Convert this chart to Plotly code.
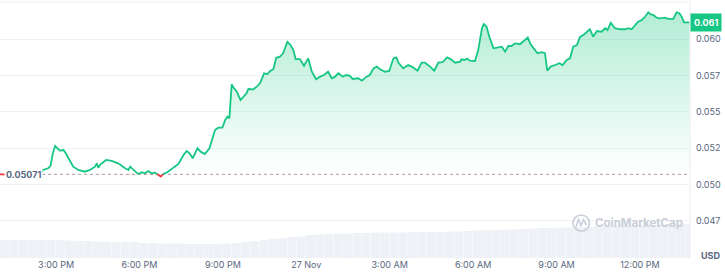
import numpy as np
import pandas as pd
import plotly.graph_objects as go

# ---------------- data ----------------
START = pd.Timestamp("2024-11-26 12:59")
END_MIN = 1489
REF_PRICE = 0.05071
LAST_LABEL = "0.061"

price_minutes = [
    0, 32, 65, 84, 93, 104, 109, 114, 119, 124, 129, 137, 142, 150, 158, 169, 183, 194, 205, 209,
    212, 217, 229, 241, 255, 270, 277, 281, 288, 298, 306, 313, 320, 327, 334, 342, 347, 352, 361, 374,
    385, 396, 403, 409, 416, 421, 426, 433, 442, 452, 457, 464, 471, 480, 486, 491, 495, 500, 505, 511,
    519, 527, 532, 536, 547, 554, 561, 570, 577, 583, 590, 596, 604, 611, 620, 627, 633, 638, 647, 656,
    665, 673, 682, 691, 699, 708, 716, 723, 730, 740, 747, 755, 761, 773, 781, 791, 798, 806, 813, 820,
    831, 840, 849, 855, 860, 870, 881, 891, 901, 910, 917, 928, 937, 946, 955, 965, 973, 982, 993, 996,
    1003, 1008, 1014, 1025, 1032, 1040, 1044, 1050, 1056, 1065, 1075, 1083, 1090, 1097, 1104, 1111, 1122, 1131, 1139, 1145,
    1152, 1160, 1169, 1176, 1181, 1188, 1198, 1207, 1214, 1223, 1230, 1237, 1245, 1252, 1259, 1266, 1273, 1280, 1288, 1298,
    1306, 1311, 1318, 1327, 1338, 1349, 1356, 1363, 1370, 1377, 1385, 1392, 1399, 1404, 1410, 1417, 1424, 1435, 1442, 1453,
    1460, 1466, 1471, 1476, 1483, 1488,
]
prices = [
    0.05071, 0.05068, 0.05066, 0.05064, 0.05101, 0.05113, 0.05130, 0.05216, 0.05266, 0.05250,
    0.05234, 0.05238, 0.05216, 0.05170, 0.05124, 0.05101, 0.05089, 0.05101, 0.05124, 0.05147,
    0.05117, 0.05140, 0.05170, 0.05163, 0.05147, 0.05113, 0.05101, 0.05124, 0.05101, 0.05073,
    0.05085, 0.05078, 0.05094, 0.05078, 0.05082, 0.05066, 0.05056, 0.05073, 0.05085, 0.05113,
    0.05142, 0.05204, 0.05232, 0.05216, 0.05181, 0.05216, 0.05250, 0.05227, 0.05211, 0.05250,
    0.05307, 0.05376, 0.05392, 0.05392, 0.05445, 0.05468, 0.05457, 0.05690, 0.05663, 0.05640,
    0.05582, 0.05610, 0.05629, 0.05658, 0.05656, 0.05674, 0.05697, 0.05766, 0.05761, 0.05782,
    0.05794, 0.05873, 0.05880, 0.05904, 0.05983, 0.05961, 0.05926, 0.05864, 0.05864, 0.05818,
    0.05869, 0.05777, 0.05725, 0.05743, 0.05754, 0.05777, 0.05732, 0.05743, 0.05766, 0.05743,
    0.05754, 0.05748, 0.05727, 0.05732, 0.05715, 0.05743, 0.05754, 0.05800, 0.05812, 0.05794,
    0.05777, 0.05782, 0.05869, 0.05876, 0.05839, 0.05800, 0.05823, 0.05807, 0.05784, 0.05839,
    0.05839, 0.05812, 0.05784, 0.05839, 0.05842, 0.05876, 0.05862, 0.05839, 0.05846, 0.05862,
    0.05858, 0.05867, 0.05853, 0.05851, 0.05926, 0.06076, 0.06105, 0.06087, 0.06018, 0.05938,
    0.05942, 0.05949, 0.05915, 0.05954, 0.05954, 0.05972, 0.05966, 0.05988, 0.06012, 0.05966,
    0.05938, 0.05904, 0.05911, 0.05904, 0.05784, 0.05812, 0.05823, 0.05835, 0.05823, 0.05858,
    0.05869, 0.05949, 0.05961, 0.06018, 0.06030, 0.06052, 0.06069, 0.06018, 0.06057, 0.06052,
    0.06076, 0.06064, 0.06114, 0.06076, 0.06069, 0.06069, 0.06076, 0.06069, 0.06094, 0.06121,
    0.06133, 0.06155, 0.06186, 0.06172, 0.06167, 0.06149, 0.06144, 0.06149, 0.06140, 0.06140,
    0.06186, 0.06179, 0.06155, 0.06117, 0.06117, 0.06117,
]

vol_minutes = [i * 20 for i in range(75)]
volumes = [  # 24h volume, millions USD
    18, 18, 18, 18, 18, 18, 18, 17.5,
    17, 17, 16.5, 16.5, 16, 16, 16,
    15, 15, 14.5, 14.5, 14.5, 14, 14, 14,
    14, 14.5, 15,
    16, 17, 18,
    19, 20, 21, 21.5,
    23, 23.5, 24, 24.5, 24.5,
    25, 25, 25.5, 25.5, 25.5, 25.5, 26, 26,
    26, 26, 26.5, 26.5, 27, 27.5,
    28, 28, 28.5, 28.5, 29, 29.5,
    30, 30, 30.5, 30.5, 31, 31, 31.5,
    32, 32, 32.5, 32.5, 33, 33, 33.5, 33.5, 34, 34,
]

ytick_vals = [0.0475, 0.0500, 0.0525, 0.0550, 0.0575, 0.0600]
ytick_text = ["0.047", "0.050", "0.052", "0.055", "0.057", "0.060"]
xtick_times = ["2024-11-26 15:00", "2024-11-26 18:00", "2024-11-26 21:00", "2024-11-27 00:00",
               "2024-11-27 03:00", "2024-11-27 06:00", "2024-11-27 09:00", "2024-11-27 12:00"]
xtick_text = ["3:00 PM", "6:00 PM", "9:00 PM", "27 Nov", "3:00 AM", "6:00 AM", "9:00 AM", "12:00 PM"]

# ---------------- styling ----------------
GREEN = "#16c784"
RED = "#ea3943"
GRID = "#eff2f5"
TXT = "#58667e"
FONT = "Inter"

# split line at crossings of reference price
t = np.array(price_minutes, float)
p = np.array(prices, float)
T, P = [t[0]], [p[0]]
for i in range(1, len(t)):
    a, b = p[i - 1] - REF_PRICE, p[i] - REF_PRICE
    if a * b < 0:
        T.append(t[i - 1] + (t[i] - t[i - 1]) * a / (a - b))
        P.append(REF_PRICE)
    T.append(t[i])
    P.append(p[i])
T = np.array(T)
P = np.array(P)
times = START + pd.to_timedelta(T, unit="min")
green_line = np.where(P >= REF_PRICE, P, np.nan)
red_line = np.where(P <= REF_PRICE, P, np.nan)
base = np.full_like(P, REF_PRICE)

vol_times = START + pd.to_timedelta(np.array(vol_minutes, float) + 10, unit="min")

fig = go.Figure()

fig.add_trace(go.Bar(x=vol_times, y=volumes, yaxis="y2", marker_color="#eef1f5",
                     marker_line_width=0, hoverinfo="skip", showlegend=False))

fig.add_trace(go.Scatter(x=times, y=base, mode="lines", line=dict(width=0),
                         hoverinfo="skip", showlegend=False))
fig.add_trace(go.Scatter(x=times, y=np.maximum(P, REF_PRICE), mode="lines", line=dict(width=0),
                         fill="tonexty",
                         fillgradient=dict(type="vertical",
                                           colorscale=[[0, "rgba(22,199,132,0.0)"],
                                                       [1, "rgba(22,199,132,0.33)"]],
                                           start=REF_PRICE, stop=float(P.max())),
                         hoverinfo="skip", showlegend=False))
fig.add_trace(go.Scatter(x=times, y=base, mode="lines", line=dict(width=0),
                         hoverinfo="skip", showlegend=False))
fig.add_trace(go.Scatter(x=times, y=np.minimum(P, REF_PRICE), mode="lines", line=dict(width=0),
                         fill="tonexty", fillcolor="rgba(234,57,67,0.12)",
                         hoverinfo="skip", showlegend=False))

# reference dotted line
fig.add_trace(go.Scatter(x=[START, START + pd.Timedelta(minutes=END_MIN)], y=[REF_PRICE, REF_PRICE],
                         mode="lines", line=dict(color="rgba(170,140,150,0.9)", width=1, dash="dot"),
                         hoverinfo="skip", showlegend=False))

fig.add_trace(go.Scatter(x=times, y=green_line, mode="lines",
                         line=dict(color=GREEN, width=1.8), connectgaps=False,
                         hoverinfo="skip", showlegend=False))
fig.add_trace(go.Scatter(x=times, y=red_line, mode="lines",
                         line=dict(color=RED, width=1.8), connectgaps=False,
                         hoverinfo="skip", showlegend=False))

fig.update_layout(
    width=725, height=277,
    margin=dict(l=0, r=35, t=2, b=19),
    paper_bgcolor="white", plot_bgcolor="white",
    font=dict(family=FONT, size=9, color=TXT),
    bargap=0.04,
    xaxis=dict(type="date",
               range=[START, START + pd.Timedelta(minutes=END_MIN)],
               tickvals=pd.to_datetime(xtick_times), ticktext=xtick_text,
               showgrid=False, zeroline=False, showline=False, ticks="",
               tickfont=dict(family=FONT, size=9, color=TXT), fixedrange=True),
    yaxis=dict(side="right", range=[0.044954, 0.062566],
               tickvals=ytick_vals, ticktext=ytick_text,
               showgrid=True, gridcolor=GRID, gridwidth=1, zeroline=False,
               ticks="", ticklabelstandoff=5,
               tickfont=dict(family=FONT, size=9, color=TXT)),
    yaxis2=dict(overlaying="y", range=[0, 256], visible=False, showgrid=False),
    showlegend=False,
)

# borders
fig.add_shape(type="line", xref="paper", yref="paper", x0=0, x1=1, y0=1, y1=1,
              line=dict(color="#e9ecf0", width=1))
fig.add_shape(type="line", xref="paper", yref="paper", x0=1, x1=1, y0=0, y1=1,
              line=dict(color="#e9ecf0", width=1))

# watermark logo
fig.add_shape(type="circle", xref="paper", yref="paper",
              x0=573 / 690, x1=589.5 / 690, y0=(258 - 231) / 256, y1=(258 - 215) / 256,
              line=dict(color="#c9ced8", width=1.6))
fig.add_shape(type="path", xref="paper", yref="paper",
              path=("M %f %f L %f %f L %f %f L %f %f L %f %f" % (
                  576 / 690, (258 - 227) / 256, 578.5 / 690, (258 - 219.5) / 256,
                  581 / 690, (258 - 225.5) / 256, 583.5 / 690, (258 - 219.5) / 256,
                  586.5 / 690, (258 - 225) / 256)),
              line=dict(color="#c9ced8", width=1.6))

annotations = [
    dict(xref="paper", yref="y", x=0, y=REF_PRICE, xanchor="left", yanchor="middle",
         xshift=4, text="<b>0.05071</b>", showarrow=False, bgcolor="white", borderpad=1,
         font=dict(family=FONT, size=9, color=TXT)),
    dict(xref="paper", yref="y", x=1, y=prices[-1], xanchor="left", yanchor="middle",
         xshift=0, text="<b>%s</b>" % LAST_LABEL, showarrow=False, bgcolor=GREEN, borderpad=3,
         font=dict(family=FONT, size=9, color="white")),
    dict(xref="paper", yref="paper", x=1, y=0, xanchor="left", yanchor="middle",
         xshift=9, yshift=3, text="<b>USD</b>", showarrow=False,
         font=dict(family=FONT, size=9, color=TXT)),
    dict(xref="paper", yref="paper", x=593 / 690, y=(258 - 223) / 256, xanchor="left", yanchor="middle",
         text="<b>CoinMarketCap</b>", showarrow=False,
         font=dict(family=FONT, size=11.5, color="#c9ced8")),
]
fig.update_layout(annotations=annotations)

fig.write_html("out.html", config={"displayModeBar": False})
